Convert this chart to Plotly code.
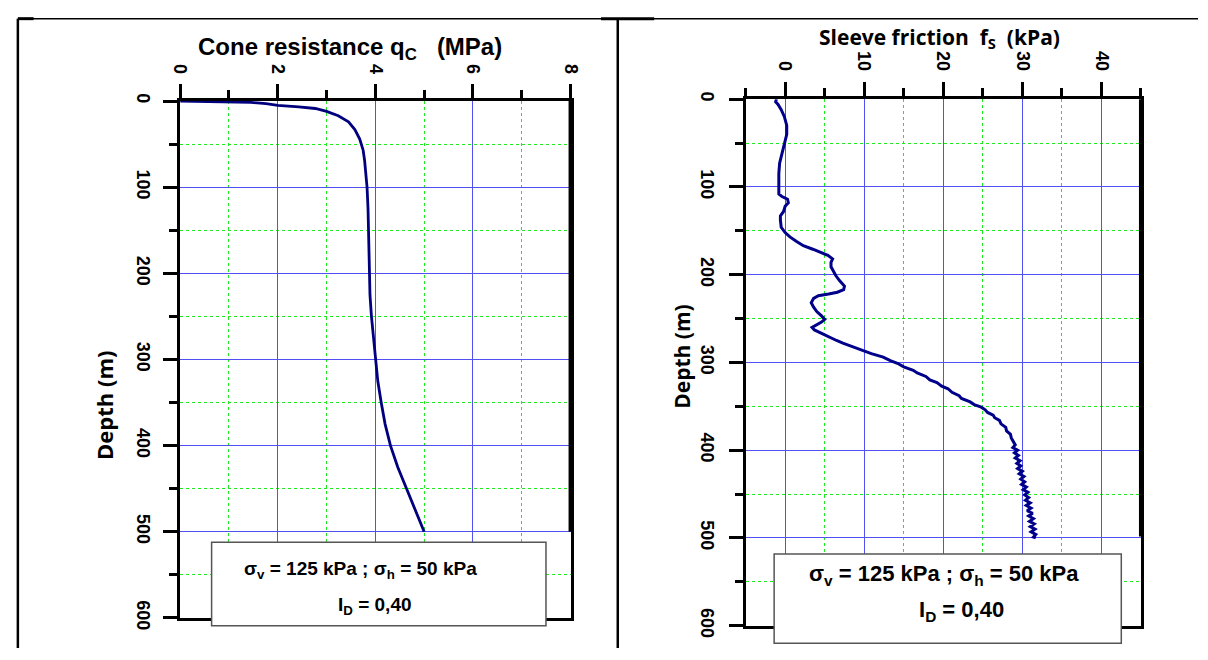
import plotly.graph_objects as go

# ---- cone resistance profile ----
qc_depth = [0, 0.5, 1, 1.5, 3, 4.9, 6.7, 8.6, 12, 17, 24, 33, 44, 57, 69, 85, 100,
            125, 150, 175, 200, 225, 250, 275, 300, 325, 350, 375, 400, 425, 450, 475, 500]
qc_mpa = [0.0, 0.6, 1.2, 1.45, 1.76, 2.0, 2.43, 2.77, 3.0, 3.24, 3.45, 3.58, 3.68, 3.75, 3.78, 3.81, 3.83,
          3.85, 3.86, 3.86, 3.87, 3.89, 3.92, 3.96, 4.0, 4.05, 4.12, 4.2, 4.31, 4.46, 4.64, 4.82, 5.0]

# ---- sleeve friction profile ----
fs_depth = [0, 3, 6, 12, 20, 30, 40, 50, 60, 73, 85, 95, 108, 111, 114, 118, 122, 128, 133, 138,
            146, 152, 157, 162, 167, 171, 174, 178, 182, 186, 191, 196, 201, 207, 213, 217, 220,
            222, 224, 227, 232, 237, 242, 247, 251, 254, 257, 260, 263, 267, 271, 275, 278, 283,
            287, 290, 294, 298, 301, 305, 309, 312, 316, 320, 323, 327, 330, 334, 338, 341, 345,
            348, 351, 354, 357, 360, 363, 366, 370, 374, 378, 382, 386, 390, 394, 397, 400, 403,
            406, 409, 412, 415, 418, 421, 424, 427, 430, 433, 436, 439, 442, 445, 448, 451, 454,
            457, 460, 463, 466, 469, 472, 475, 478, 481, 484, 487, 490, 493, 496, 499, 500]
fs_kpa = [-1.1, -1.2, -0.9, -0.5, -0.1, 0.2, 0.2, -0.1, -0.4, -0.7, -0.8, -0.8, -0.8, -0.4, 0.3,
          0.4, 0.0, -0.2, -0.6, -0.6, -0.5, 0.0, 0.6, 1.4, 2.3, 3.5, 4.4, 5.4, 6.0, 5.8, 5.8, 6.1,
          6.4, 6.9, 7.5, 7.4, 6.6, 5.5, 4.2, 3.6, 3.3, 3.6, 4.0, 4.6, 5.0, 4.6, 4.0, 3.4, 3.7,
          4.6, 5.5, 6.5, 7.3, 8.8, 10.0, 10.9, 12.4, 13.3, 14.2, 15.0, 16.2, 16.7, 17.8, 18.3,
          19.2, 19.8, 20.6, 21.1, 22.0, 22.3, 23.4, 23.9, 24.8, 25.3, 25.6, 26.3, 26.5, 27.1,
          27.3, 27.9, 28.0, 28.5, 28.6, 28.9, 29.1, 28.8, 29.4, 29.0, 29.5, 29.1, 29.7, 29.3,
          29.8, 29.4, 30.0, 29.6, 30.2, 29.8, 30.3, 29.9, 30.5, 30.1, 30.7, 30.3, 30.8, 30.4,
          31.0, 30.5, 31.1, 30.6, 31.3, 30.8, 31.4, 30.9, 31.5, 31.0, 31.6, 31.1, 31.7, 31.4, 31.7]

stress_line = "σ<sub>v</sub> = 125 kPa ; σ<sub>h</sub> = 50 kPa"
density_line = "I<sub>D</sub> = 0,40"

# Figure fills the whole window; positions below are in window pixels.
W, H = 1208, 660


def px(x):
    return x / W


def py(y):
    return 1 - y / H


AX_FONT = dict(family="Liberation Sans", size=18, color="black", weight="bold")
MAJOR_GRID = "#5050f5"
MINOR_GRID = "#1ee81e"

fig = go.Figure()
fig.add_trace(go.Scatter(x=qc_mpa, y=qc_depth, mode="lines", xaxis="x", yaxis="y",
                         line=dict(color="#00007f", width=2.8), showlegend=False))
fig.add_trace(go.Scatter(x=fs_kpa, y=fs_depth, mode="lines", xaxis="x2", yaxis="y2",
                         line=dict(color="#00008b", width=3), showlegend=False))


def xaxis(domain, rng, dtick, minor_dtick, anchor, standoff):
    return dict(domain=domain, range=rng, side="top", anchor=anchor,
                tick0=0, dtick=dtick, ticks="outside", ticklen=14, tickwidth=2.5,
                tickcolor="black", tickangle=90, tickfont=AX_FONT, ticklabelstandoff=standoff,
                showline=True, linewidth=2.5, linecolor="black", mirror=True,
                showgrid=True, gridcolor=MAJOR_GRID, gridwidth=1, zeroline=False,
                minor=dict(tick0=0, dtick=minor_dtick, ticks="outside", ticklen=8,
                           tickwidth=2.5, tickcolor="black", showgrid=True,
                           gridcolor=MINOR_GRID, griddash="dot", gridwidth=1.4),
                fixedrange=True)


def yaxis(domain, anchor, standoff):
    return dict(domain=domain, range=[600, 0], anchor=anchor,
                tick0=0, dtick=100, ticks="outside", ticklen=14, tickwidth=2.5,
                tickcolor="black", tickangle=90, tickfont=AX_FONT, ticklabelstandoff=standoff,
                showline=True, linewidth=2.5, linecolor="black", mirror=True,
                showgrid=True, gridcolor=MAJOR_GRID, gridwidth=1, zeroline=False,
                minor=dict(tick0=0, dtick=50, ticks="outside", ticklen=8, tickwidth=2.5,
                           tickcolor="black", showgrid=True, gridcolor=MINOR_GRID,
                           griddash="dot", gridwidth=1.4),
                fixedrange=True)


fig.update_layout(
    width=W, height=H,
    margin=dict(l=0, r=0, t=0, b=0),
    paper_bgcolor="white", plot_bgcolor="white",
    xaxis=xaxis([px(173), px(570)], [0, 8], 2, 1, "y", 4),
    yaxis=yaxis([py(629), py(96)], "x", 5),
    xaxis2=xaxis([px(748), px(1150)], [-5, 45], 10, 5, "y2", 5),
    yaxis2=yaxis([py(637), py(94)], "x2", 6),
)

BOLD = dict(family="Liberation Sans", color="black", weight="bold")
annotations = [
    dict(x=px(346), y=py(42), text="Cone resistance q<sub>C</sub>&nbsp;&nbsp;&nbsp;(MPa)",
         font=dict(BOLD, size=24)),
    dict(x=px(945), y=py(31), text="Sleeve friction&nbsp;&nbsp;f<sub>S</sub>&nbsp;&nbsp;(kPa)",
         font=dict(BOLD, family="Open Sans", size=21)),
    dict(x=px(95), y=py(410), text="Depth (m)", textangle=-90,
         font=dict(BOLD, family="Open Sans", size=22)),
    dict(x=px(683), y=py(360), text="Depth (m)", textangle=-90,
         font=dict(BOLD, family="Open Sans", size=21)),
    dict(x=px(356), y=py(580), text=stress_line, font=dict(BOLD, size=19)),
    dict(x=px(371), y=py(617), text=density_line, font=dict(BOLD, size=19)),
    dict(x=px(950), y=py(585), text=stress_line, font=dict(BOLD, size=22)),
    dict(x=px(968), y=py(622), text=density_line, font=dict(BOLD, size=22)),
]
for a in annotations:
    a.update(xref="paper", yref="paper", showarrow=False, xanchor="center", yanchor="middle")
fig.update_layout(annotations=annotations)

shapes = []
# white boxes holding the test conditions
for x0, y0, x1, y1 in [(205, 551, 545, 637), (777, 563, 1130, 655)]:
    shapes.append(dict(type="rect", xref="paper", yref="paper", layer="above",
                       x0=px(x0), y0=py(y1), x1=px(x1), y1=py(y0),
                       fillcolor="white", line=dict(color="#555555", width=1.5)))
# heavier right-hand borders of both panels
for x, y0, y1 in [(570, 96, 540), (1150, 94, 545)]:
    shapes.append(dict(type="line", xref="paper", yref="paper", layer="above",
                       x0=px(x), y0=py(y0), x1=px(x), y1=py(y1),
                       line=dict(color="black", width=4)))
# table frame around the two panels
frame = [
    (8, 11, 1208, 11, 1.5),
    (8, 11, 8, 660, 2.5),
    (618, 11, 618, 660, 2.5),
    (8, 11, 24, 11, 3),
    (601, 11, 655, 11, 3),
]
for a, b, c, d, w in frame:
    shapes.append(dict(type="line", xref="paper", yref="paper", layer="above",
                       x0=px(a), y0=py(b), x1=px(c), y1=py(d),
                       line=dict(color="black", width=w)))
fig.update_layout(shapes=shapes)

fig.write_html("out.html", post_script="document.body.style.margin='0';")
